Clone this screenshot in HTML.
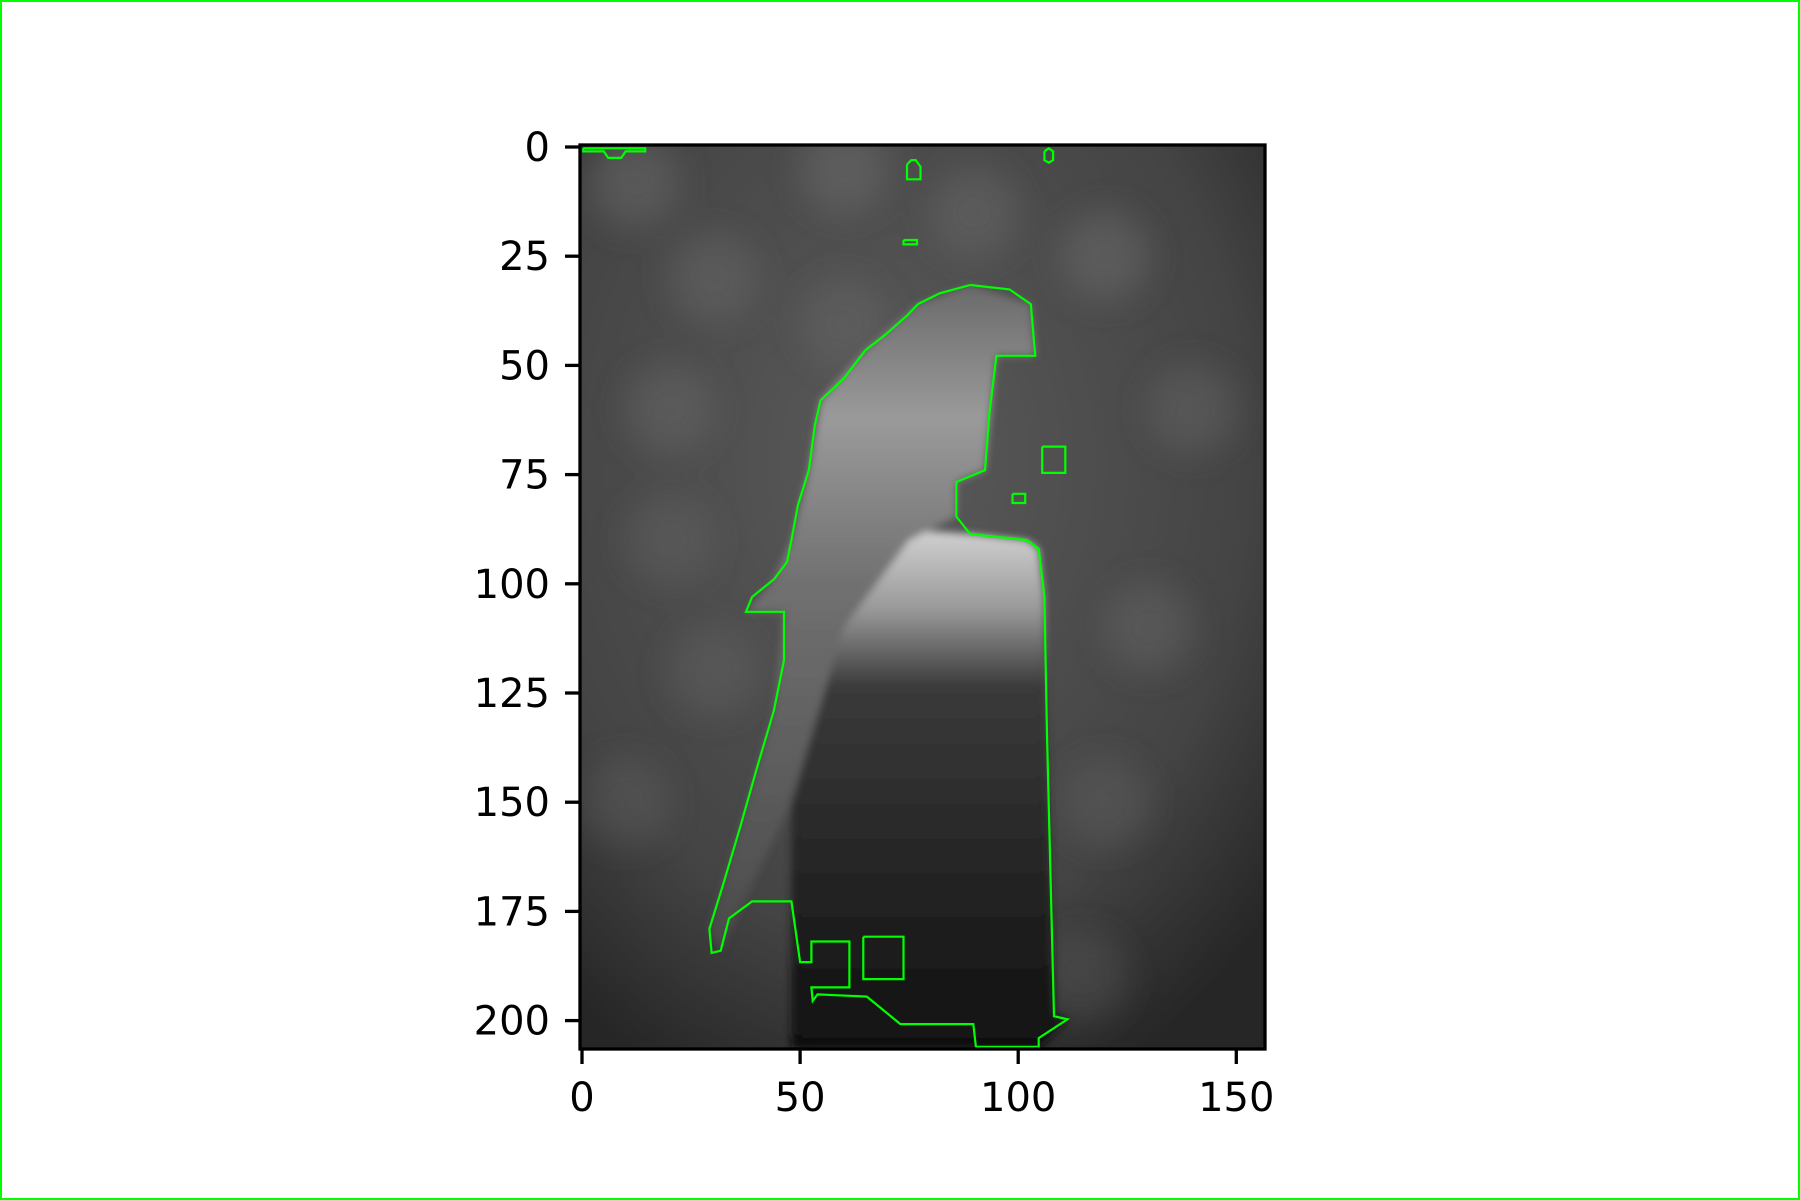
<!DOCTYPE html>
<html><head><meta charset="utf-8"><style>
html,body{margin:0;padding:0;background:#fff}
svg{display:block}
text{font-family:"DejaVu Sans","Liberation Sans",sans-serif;font-size:40px;fill:#000}
</style></head><body>
<svg width="1800" height="1200" viewBox="0 0 1800 1200">
<rect x="1" y="1" width="1798" height="1198" fill="#fff" stroke="#00ff00" stroke-width="2"/>
<defs>
<filter id="bl" x="-20%" y="-20%" width="140%" height="140%"><feGaussianBlur stdDeviation="16"/></filter>
<filter id="bl2"><feGaussianBlur stdDeviation="4"/></filter>
<clipPath id="ax"><rect x="580" y="145" width="685" height="904"/></clipPath>
<radialGradient id="vig" cx="0.45" cy="0.35" r="0.75"><stop offset="0" stop-color="#5a5a5a"/><stop offset="0.7" stop-color="#444"/><stop offset="1" stop-color="#262626"/></radialGradient>
<linearGradient id="stump" x1="0" y1="0" x2="0" y2="1"><stop offset="0" stop-color="#d0d0d0"/><stop offset="0.15" stop-color="#999"/><stop offset="0.3" stop-color="#3a3a3a"/><stop offset="1" stop-color="#101010"/></linearGradient>
<linearGradient id="bird" x1="0" y1="0" x2="0" y2="1"><stop offset="0" stop-color="#6a6a6a"/><stop offset="0.2" stop-color="#9a9a9a"/><stop offset="0.45" stop-color="#707070"/><stop offset="1" stop-color="#4a4a4a"/></linearGradient>
</defs>
<g clip-path="url(#ax)">
<rect x="580" y="145" width="685" height="904" fill="url(#vig)"/>
<g id="blobs" filter="url(#bl)"></g>
<g id="fig" filter="url(#bl2)"></g>
</g>
<g id="contours" clip-path="url(#ax)"></g>
<rect x="580" y="145" width="685" height="904" fill="none" stroke="#000" stroke-width="3.3"/>
<g id="ticks"></g>
</svg>
<script>
const xTicks=[0,50,100,150];
const yTicks=[0,25,50,75,100,125,150,175,200];
const mainContour=[[89,31.6],[82,33.5],[77,36],[74.5,38.6],[69.5,43],[65,46.5],[60,53],[54.7,58],[53.4,63.6],[52,74],[49.5,82],[48,90],[47,95],[44,99],[39,103],[37.6,106.4],[46.3,106.4],[46.3,117.5],[44,129],[40,142.5],[36.3,155.6],[32.4,168.7],[29.2,179],[29.7,184.5],[31.8,184],[33.7,176.6],[39,172.7],[48,172.7],[50,186.6],[52.6,186.6],[52.6,181.9],[61.3,181.9],[61.3,192.4],[52.6,192.4],[52.9,195.5],[54,194],[65.3,194.5],[73,200.8],[89.7,200.8],[90.3,206],[104.7,206],[104.7,204],[111.3,199.7],[108.2,199],[106.6,134.6],[106,103],[104.7,92],[102,90],[89,88.6],[85.8,84.6],[85.8,76.7],[92.4,74],[93.4,61],[95,47.8],[103.9,47.8],[102.9,36],[98,32.6],[89,31.6]];
const box1=[[64.5,180.8],[73.7,180.8],[73.7,190.5],[64.5,190.5],[64.5,180.8]];
const box2=[[105.5,68.6],[110.8,68.6],[110.8,74.6],[105.5,74.6],[105.5,68.6]];
const box3=[[98.7,79.4],[101.6,79.4],[101.6,81.5],[98.7,81.5],[98.7,79.4]];
const box4=[[74.5,4],[75.5,3],[76.5,3],[77.6,4.5],[77.6,7.4],[74.5,7.4],[74.5,4]];
const box5=[[73.7,21.3],[76.8,21.3],[76.8,22.3],[73.7,22.3],[73.7,21.3]];
const box6=[[106,1],[107,0.3],[108,1],[108,3],[107,3.6],[106,3],[106,1]];
const box7=[[0.3,0.3],[14.5,0.3],[14.5,1],[10,1],[9,2.5],[6,2.5],[5,1],[0.3,1],[0.3,0.3]];
const stumpShape=[[48,172.7],[48,120],[52,100],[62,90],[80,88],[89,88.6],[102,90],[104.7,92],[106,103],[106.6,134.6],[108.2,199],[111.3,199.7],[104.7,206.5],[48,206.5]];
const birdShape=[[89,31.6],[77,36],[65,46.5],[54.7,58],[52,74],[48,90],[44,99],[37.6,106.4],[46.3,106.4],[44,129],[36.3,155.6],[29.2,179],[31.8,184],[48,150],[60,110],[75,90],[85.8,84.6],[85.8,76.7],[92.4,74],[95,47.8],[103.9,47.8],[102.9,36],[89,31.6]];
const blobsData=[[12,8,0.3],[30,30,0.25],[60,5,0.3],[90,15,0.25],[120,25,0.3],[140,60,0.25],[20,60,0.25],[30,120,0.2],[130,110,0.25],[120,150,0.2],[10,150,0.2],[115,190,0.2],[60,40,0.2],[20,90,0.2]];
const xs=v=>582+v*4.362, ys=v=>147+v*4.368;
const NS='http://www.w3.org/2000/svg';
function pts(a){return a.map(p=>xs(p[0]).toFixed(1)+','+ys(p[1]).toFixed(1)).join(' ');}
const bl=document.getElementById('blobs');
blobsData.forEach(b=>{const c=document.createElementNS(NS,'ellipse');


c.setAttribute('cx',xs(b[0]));c.setAttribute('cy',ys(b[1]));c.setAttribute('rx',45);c.setAttribute('ry',45);c.setAttribute('fill','#808080');c.setAttribute('opacity',b[2]);bl.appendChild(c);});
const fg=document.getElementById('fig');
[[stumpShape,'url(#stump)','stump'],[birdShape,'url(#bird)','parrot']].forEach(s=>{const p=document.createElementNS(NS,'polygon');


p.setAttribute('points',pts(s[0]));p.setAttribute('fill',s[1]);fg.appendChild(p);});
const cg=document.getElementById('contours');
[mainContour,box1,box2,box3,box4,box5,box6,box7].forEach(c=>{const p=document.createElementNS(NS,'polyline');


p.setAttribute('points',pts(c));p.setAttribute('fill','none');p.setAttribute('stroke','#00ff00');p.setAttribute('stroke-width','2.2');cg.appendChild(p);});
const tg=document.getElementById('ticks');
xTicks.forEach(v=>{const l=document.createElementNS(NS,'line');


l.setAttribute('x1',xs(v));l.setAttribute('x2',xs(v));l.setAttribute('y1',1049);l.setAttribute('y2',1064);l.setAttribute('stroke','#000');l.setAttribute('stroke-width','3.3');tg.appendChild(l);
const t=document.createElementNS(NS,'text');


t.setAttribute('x',xs(v));t.setAttribute('y',1111);t.setAttribute('text-anchor','middle');t.textContent=v;tg.appendChild(t);});
yTicks.forEach(v=>{const l=document.createElementNS(NS,'line');


l.setAttribute('x1',565);l.setAttribute('x2',580);l.setAttribute('y1',ys(v));l.setAttribute('y2',ys(v));l.setAttribute('stroke','#000');l.setAttribute('stroke-width','3.3');tg.appendChild(l);
const t=document.createElementNS(NS,'text');


t.setAttribute('x',550);t.setAttribute('y',ys(v)+14);t.setAttribute('text-anchor','end');t.textContent=v;tg.appendChild(t);});
</script>
</body></html>
